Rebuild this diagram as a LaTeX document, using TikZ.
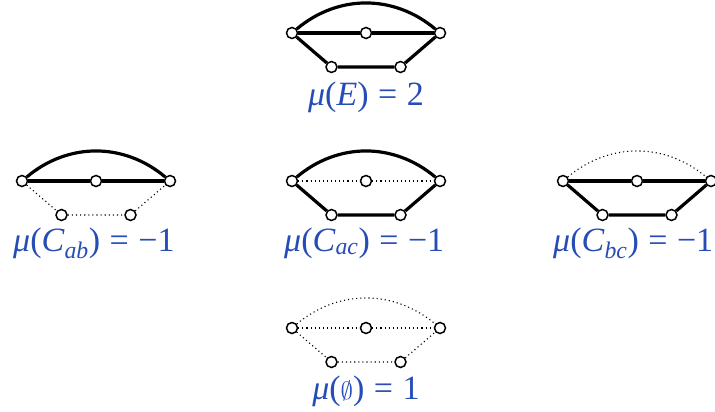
\documentclass[tikz,border=0pt]{standalone}
\usepackage{fontspec}
\setmainfont{Liberation Serif}
\definecolor{labblue}{RGB}{38,76,182}
\tikzset{
  vtx/.style={circle, draw, line width=1.5pt, fill=white, inner sep=0pt, minimum size=11pt},
  thk/.style={line width=3.2pt},
  dts/.style={line width=1.1pt, dash pattern=on 1.1pt off 3pt},
  lab/.style={text=labblue, font=\fontsize{34}{40}\selectfont, inner sep=0pt}
}
% #1 prefix, #2 x, #3 y, #4 arc style, #5 middle style, #6 lower style
\newcommand\drawgraph[6]{%
  \node[vtx] (#1a) at (#2,#3) {};
  \node[vtx] (#1b) at (#2+74,#3) {};
  \node[vtx] (#1c) at (#2+148,#3) {};
  \node[vtx] (#1d) at (#2+39.5,#3+34) {};
  \node[vtx] (#1e) at (#2+108.5,#3+34) {};
  \begin{pgfonlayer}{background}
  \draw[#4] (#1a) to[bend left=40] (#1c);
  \draw[#5] (#1a) -- (#1b) -- (#1c);
  \draw[#6] (#1a) -- (#1d) -- (#1e) -- (#1c);
  \end{pgfonlayer}
}
\newcommand\eqsp{\hspace{0.28em}}
\pgfdeclarelayer{background}
\pgfsetlayers{background,main}
\begin{document}
\begin{tikzpicture}[x=1pt,y=-1pt]
\useasboundingbox (0,0) rectangle (715,412);
\drawgraph{t}{292}{33}{thk}{thk}{thk}
\drawgraph{l}{22}{181}{thk}{thk}{dts}
\drawgraph{m}{292}{181}{thk}{dts}{thk}
\drawgraph{r}{563}{181}{dts}{thk}{thk}
\drawgraph{b}{292}{328}{dts}{dts}{dts}
\node[lab, anchor=base] (lt) at (366,105) {\textit{μ}(\textit{E})\eqsp=\eqsp2};
\node[lab, anchor=base west] (ll) at (13,251) {\textit{μ}(\textit{C}\textsubscript{\textit{ab}})\eqsp=\eqsp−1};
\node[lab, anchor=base west] (lm) at (284,251) {\textit{μ}(\textit{C}\textsubscript{\textit{ac}})\eqsp=\eqsp−1};
\node[lab, anchor=base west] (lr) at (553,251) {\textit{μ}(\textit{C}\textsubscript{\textit{bc}})\eqsp=\eqsp−1};
\node[lab, anchor=base] (lb) at (366,399) {\textit{μ}($\emptyset$)\eqsp=\eqsp1};
\end{tikzpicture}
\end{document}
